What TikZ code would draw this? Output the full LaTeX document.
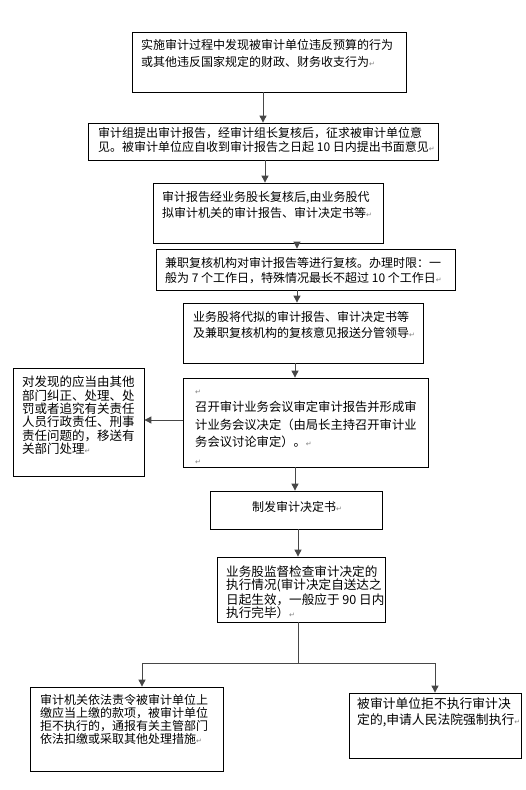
\documentclass[tikz,border=0pt]{standalone}
\usepackage{fontspec}
\setmainfont{Noto Sans CJK SC}
\newfontfamily\dejavu{DejaVu Sans}
\usetikzlibrary{arrows.meta}
\newcommand\retmk{{\dejavu\fontsize{7}{7}\selectfont\color{gray}↵}}
\newcommand\fs[2]{\fontsize{#1}{#2}\selectfont}
\begin{document}
\begin{tikzpicture}[x=1pt,y=-1pt,
  box/.style={draw=black, line width=0.8pt, inner sep=0pt},
  txt/.style={anchor=north west, inner sep=0pt, align=left},
  arr/.style={draw=black!72, line width=0.9pt, -{Triangle[length=7pt,width=7pt]}},
  ln/.style={draw=black!72, line width=0.9pt}]
\useasboundingbox[fill=white] (0,0) rectangle (526,790);

% boxes
\node[box, minimum width=274pt, minimum height=60pt] (B1) at (269,62) {};
\node[box, minimum width=350pt, minimum height=37pt] (B2) at (263,141.5) {};
\node[box, minimum width=230pt, minimum height=60pt] (B3) at (268,213) {};
\node[box, minimum width=299pt, minimum height=41pt] (B4) at (305.5,269.5) {};
\node[box, minimum width=240pt, minimum height=60pt] (B5) at (303,333) {};
\node[box, minimum width=245pt, minimum height=89pt] (B6) at (305.5,422.5) {};
\node[box, minimum width=131pt, minimum height=108pt] (L) at (78.5,422) {};
\node[box, minimum width=172pt, minimum height=38pt] (B7) at (296,510) {};
\node[box, minimum width=168pt, minimum height=65pt] (B8) at (301,589.5) {};
\node[box, minimum width=193pt, minimum height=84pt] (B9) at (126.5,729) {};
\node[box, minimum width=172pt, minimum height=65pt] (B10) at (435,725.5) {};

% texts
\node[txt, font=\fs{12}{17}] (T1) at (141,39) {实施审计过程中发现被审计单位违反预算的行为\\或其他违反国家规定的财政、财务收支行为\retmk};
\node[txt, font=\fs{12}{14.5}] (T2) at (98,127) {审计组提出审计报告，经审计组长复核后，征求被审计单位意\\见。被审计单位应自收到审计报告之日起 10 日内提出书面意见\retmk};
\node[txt, font=\fs{12}{16}] (T3) at (162,191) {审计报告经业务股长复核后,由业务股代\\拟审计机关的审计报告、审计决定书等\retmk};
\node[txt, font=\fs{12}{15}] (T4) at (165,257) {兼职复核机构对审计报告等进行复核。办理时限：一\\般为 7 个工作日，特殊情况最长不超过 10 个工作日\retmk};
\node[txt, font=\fs{12}{16.5}] (T5) at (193,311) {业务股将代拟的审计报告、审计决定书等\\及兼职复核机构的复核意见报送分管领导\retmk};
\node[txt, font=\fs{12.3}{17.5}] (T6) at (195,384) {\rule{0pt}{10pt}\retmk\\召开审计业务会议审定审计报告并形成审\\计业务会议决定（由局长主持召开审计业\\务会议讨论审定）。\retmk\\\retmk};
\node[txt, font=\fs{12.5}{13.3}] (TL) at (22,376) {对发现的应当由其他\\部门纠正、处理、处\\罚或者追究有关责任\\人员行政责任、刑事\\责任问题的，移送有\\关部门处理\retmk};
\node[txt, font=\fs{12}{15}] (T7) at (252,501) {制发审计决定书\retmk};
\node[txt, font=\fs{12.6}{13}] (T8) at (226,566) {业务股监督检查审计决定的\\执行情况(审计决定自送达之\\日起生效，一般应于 90 日内\\执行完毕）\retmk};
\node[txt, font=\fs{12}{13}] (T9) at (40,694) {审计机关依法责令被审计单位上\\缴应当上缴的款项，被审计单位\\拒不执行的，通报有关主管部门\\依法扣缴或采取其他处理措施\retmk};
\node[txt, font=\fs{12.8}{16}] (T10) at (357,697) {被审计单位拒不执行审计决\\定的,申请人民法院强制执行\retmk};

% connector positions
\coordinate (a1) at (263,0);
\coordinate (a2) at (265,0);
\coordinate (a3) at (297,0);
\coordinate (a5) at (295,0);
\coordinate (a6) at (0,420);
\coordinate (a7) at (298,0);
\coordinate (j) at (298,663);
\coordinate (a9) at (142,0);
\coordinate (a10) at (435,0);

\draw[arr] (B1.south -| a1) -- (B2.north -| a1);
\draw[arr] (B2.south -| a2) -- (B3.north -| a2);
\draw[arr] (B3.south -| a3) -- (B4.north -| a3);
\draw[arr] (B4.south -| a3) -- (B5.north -| a3);
\draw[arr] (B5.south -| a5) -- (B6.north -| a5);
\draw[arr] (B6.west |- a6) -- (L.east |- a6);
\draw[arr] (B6.south -| a5) -- (B7.north -| a5);
\draw[arr] (B7.south -| a7) -- (B8.north -| a7);
\draw[ln] (B8.south -| j) -- (j);
\draw[arr] (j) -| (B9.north -| a9);
\draw[arr] (j) -| (B10.north -| a10);
\end{tikzpicture}
\end{document}
